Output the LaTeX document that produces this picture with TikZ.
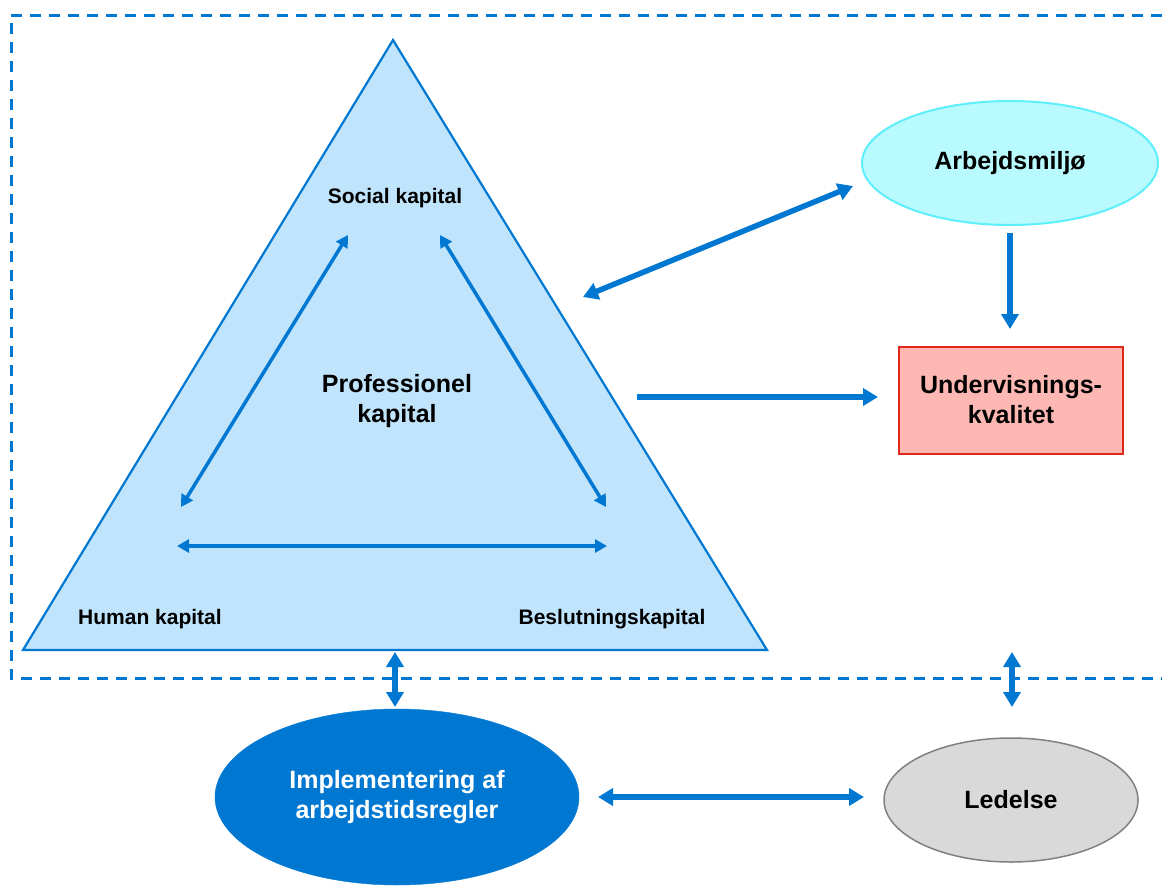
\documentclass[tikz,border=0pt]{standalone}
\usepackage{fontspec}
\setmainfont{Liberation Sans}
\usetikzlibrary{arrows.meta,shapes.geometric}
\definecolor{arrowblue}{HTML}{0078D2}
\definecolor{trifill}{HTML}{C0E4FC}
\definecolor{cyanfill}{HTML}{B8FAFD}
\definecolor{cyanline}{HTML}{5EEFFC}
\definecolor{redfill}{HTML}{FDB8B3}
\definecolor{redline}{HTML}{E02818}
\definecolor{greyfill}{HTML}{D9D9D9}
\definecolor{greyline}{HTML}{808080}
\tikzset{
  thinarr/.style={arrowblue, line width=3.5pt, {Triangle[length=12pt,width=13pt]}-{Triangle[length=12pt,width=13pt]}},
  thickarr/.style={arrowblue, line width=5.5pt, {Triangle[length=15pt,width=17pt]}-{Triangle[length=15pt,width=17pt]}},
  onearr/.style={arrowblue, line width=5.5pt, -{Triangle[length=15pt,width=17pt]}},
  lbl/.style={font=\bfseries\fontsize{21}{25}\selectfont, text=black},
  big/.style={font=\bfseries\fontsize{25}{30}\selectfont, align=center},
}
\begin{document}
\begin{tikzpicture}[x=1pt,y=-1pt]
\useasboundingbox (0,0) rectangle (1162,886);
% dashed frame
\draw[arrowblue, line width=3pt, dash pattern=on 11pt off 8pt] (1162,15) -- (11,15) -- (11,678) -- (1162,678);
% triangle
\draw[arrowblue, line width=2.2pt, fill=trifill, line join=miter] (393,40) -- (767,650) -- (23,650) -- cycle;
\node[lbl] (social) at (395,198) {Social kapital};
\node[lbl] (human) at (150,619) {Human kapital};
\node[lbl] (beslut) at (612,619) {Beslutningskapital};
\node[big] (prof) at (397,401) {Professionel\\kapital};
% ellipses and box
\node[ellipse, draw=cyanline, line width=2pt, fill=cyanfill, minimum width=296pt, minimum height=124pt, big] (arb) at (1010,163) {Arbejdsmiljø};
\node[draw=redline, line width=2pt, fill=redfill, minimum width=224pt, minimum height=107pt, big] (und) at (1011,400) {Undervisnings-\\kvalitet};
\node[ellipse, draw=arrowblue, fill=arrowblue, minimum width=364pt, minimum height=176pt, big, text=white] (impl) at (397,797) {Implementering af\\arbejdstidsregler};
\node[ellipse, draw=greyline, line width=1.5pt, fill=greyfill, minimum width=254pt, minimum height=124pt, big] (led) at (1011,800) {Ledelse};
% arrow end points
\coordinate (s1) at (348,235); \coordinate (h1) at (181,507);
\coordinate (s2) at (440,235); \coordinate (b1) at (606,507);
\coordinate (h2) at (177,546); \coordinate (b2) at (607,546);
\coordinate (t1) at (583,297); \coordinate (a1) at (853,186);
\coordinate (a2) at (1010,233); \coordinate (u1) at (1010,329);
\coordinate (t2) at (637,397); \coordinate (u2) at (878,397);
\coordinate (t3) at (395,652); \coordinate (i1) at (395,707);
\coordinate (l0) at (1012,652); \coordinate (l1) at (1012,707);
\coordinate (i2) at (598,797); \coordinate (l2) at (864,797);
% arrows
\draw[thinarr] (s1) -- (h1);
\draw[thinarr] (s2) -- (b1);
\draw[thinarr] (h2) -- (b2);
\draw[thickarr] (t1) -- (a1);
\draw[onearr] (a2) -- (u1);
\draw[onearr] (t2) -- (u2);
\draw[thickarr] (t3) -- (i1);
\draw[thickarr] (l0) -- (l1);
\draw[thickarr] (i2) -- (l2);
\end{tikzpicture}
\end{document}
